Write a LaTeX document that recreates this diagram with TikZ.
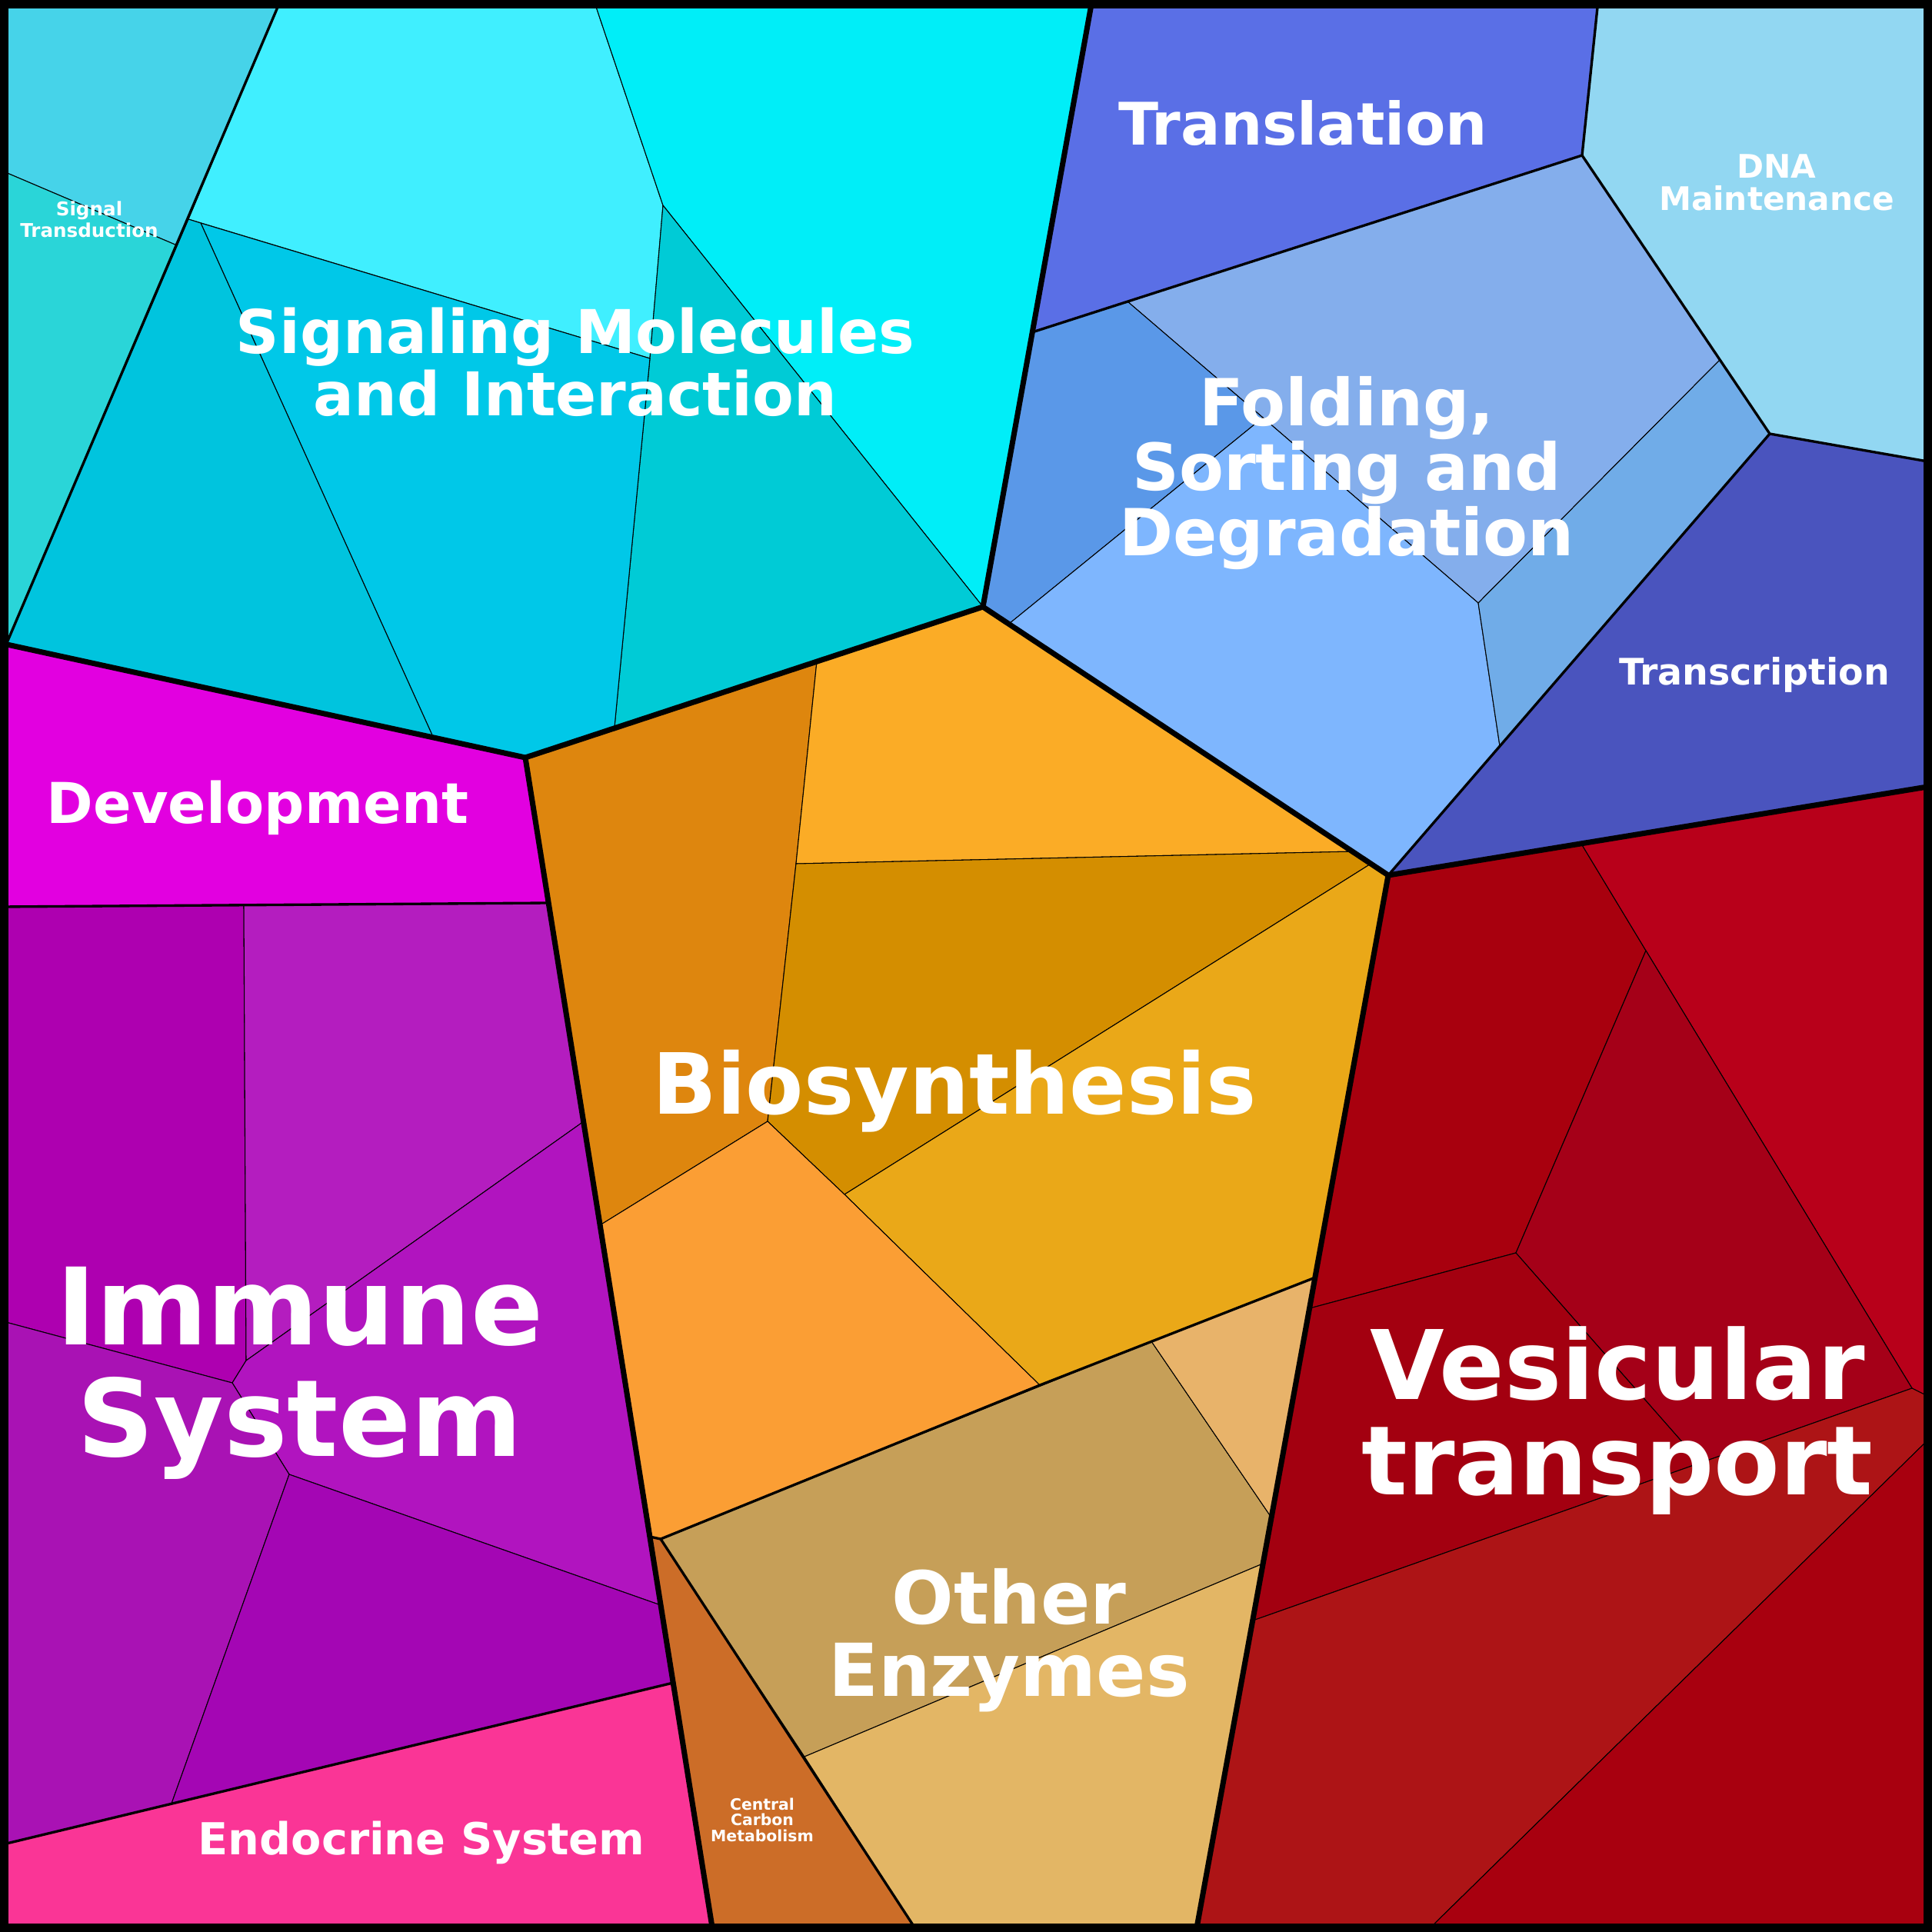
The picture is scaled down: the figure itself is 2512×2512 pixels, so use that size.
\documentclass[tikz,border=0pt]{standalone}
\usepackage{fontspec}
\setmainfont{DejaVu Sans}
\definecolor{stA}{HTML}{46D3E9}
\definecolor{stB}{HTML}{2AD5D8}
\definecolor{smA}{HTML}{40EFFF}
\definecolor{smB}{HTML}{00EEF8}
\definecolor{smC}{HTML}{00CBD6}
\definecolor{smD}{HTML}{00C8E8}
\definecolor{smE}{HTML}{00C4DE}
\definecolor{trl}{HTML}{5A6FE6}
\definecolor{dna}{HTML}{92D7F2}
\definecolor{trc}{HTML}{4A54BE}
\definecolor{fsA}{HTML}{84AEEC}
\definecolor{fsB}{HTML}{5A98E8}
\definecolor{fsC}{HTML}{7EB6FE}
\definecolor{fsD}{HTML}{70ACE8}
\definecolor{bsA}{HTML}{DE860E}
\definecolor{bsB}{HTML}{FBAC26}
\definecolor{bsC}{HTML}{D48E00}
\definecolor{bsD}{HTML}{EAA818}
\definecolor{bsE}{HTML}{FB9E34}
\definecolor{oeA}{HTML}{C69F58}
\definecolor{oeB}{HTML}{E8B36A}
\definecolor{oeC}{HTML}{E3B665}
\definecolor{ccm}{HTML}{CC6D28}
\definecolor{dev}{HTML}{E200E0}
\definecolor{end}{HTML}{FA3596}
\definecolor{imA}{HTML}{AE00B0}
\definecolor{imB}{HTML}{B41DBF}
\definecolor{imC}{HTML}{B114BF}
\definecolor{imD}{HTML}{A912B4}
\definecolor{imE}{HTML}{A406B4}
\definecolor{vtA}{HTML}{A8000E}
\definecolor{vtB}{HTML}{B8001A}
\definecolor{vtC}{HTML}{A50018}
\definecolor{vtD}{HTML}{A30010}
\definecolor{vtE}{HTML}{AD1416}
\definecolor{vtF}{HTML}{A8000F}
\begin{document}
\begin{tikzpicture}[x=0.01cm,y=-0.01cm,
  cell/.style={draw=black,line width=0.3pt},
  lvtwo/.style={line width=0.95pt,line join=round},
  lvone/.style={line width=2pt,line join=round,line cap=round},
  lab/.style 2 args={text=white,align=center,anchor=base,inner sep=0pt,
    font=\fontsize{#1}{#2}\selectfont\bfseries}]
\useasboundingbox (0,0) rectangle (2512,2512);
\coordinate (P1) at (1420,0);
\coordinate (P2) at (1278,789);
\coordinate (P3) at (683,985);
\coordinate (P4) at (0,836);
\coordinate (P5) at (1805,1138);
\coordinate (P6) at (2512,1022);
\coordinate (P7) at (927,2512);
\coordinate (P8) at (1555,2512);
\filldraw[cell,fill=stA] (0,0) -- (365,0) -- (230,319) -- (0,221) -- cycle;
\filldraw[cell,fill=stB] (0,221) -- (230,319) -- (8,838) -- (0,838) -- cycle;
\filldraw[cell,fill=smA] (365,0) -- (772,0) -- (862,267) -- (845,466) -- (245,285) -- cycle;
\filldraw[cell,fill=smB] (772,0) -- (P1) -- (P2) -- (862,267) -- cycle;
\filldraw[cell,fill=smC] (862,267) -- (P2) -- (799,945) -- (845,466) -- cycle;
\filldraw[cell,fill=smD] (261,290) -- (845,466) -- (799,945) -- (P3) -- (563,958) -- cycle;
\filldraw[cell,fill=smE] (245,285) -- (261,290) -- (563,958) -- (8,838) -- cycle;
\filldraw[cell,fill=trl] (P1) -- (2078,0) -- (2057,202) -- (1342,432) -- cycle;
\filldraw[cell,fill=dna] (2078,0) -- (2512,0) -- (2512,601) -- (2301,564) -- (2057,202) -- cycle;
\filldraw[cell,fill=trc] (2301,564) -- (2512,601) -- (P6) -- (P5) -- cycle;
\filldraw[cell,fill=fsA] (1466,392) -- (2057,202) -- (2236,468) -- (1922,784) -- (1642,543) -- cycle;
\filldraw[cell,fill=fsB] (1342,432) -- (1466,392) -- (1642,543) -- (1312,811) -- (P2) -- cycle;
\filldraw[cell,fill=fsC] (1312,811) -- (1642,543) -- (1922,784) -- (1950,970) -- (P5) -- cycle;
\filldraw[cell,fill=fsD] (2236,468) -- (2301,564) -- (1950,970) -- (1922,784) -- cycle;
\filldraw[cell,fill=bsA] (P3) -- (1062,860) -- (1035,1123) -- (998,1458) -- (780,1593) -- cycle;
\filldraw[cell,fill=bsB] (1062,860) -- (P2) -- (1762,1107) -- (1035,1123) -- cycle;
\filldraw[cell,fill=bsC] (1035,1123) -- (1762,1107) -- (1784,1122) -- (1098,1553) -- (998,1458) -- cycle;
\filldraw[cell,fill=bsD] (1784,1122) -- (P5) -- (1710,1661) -- (1352,1801) -- (1098,1553) -- cycle;
\filldraw[cell,fill=bsE] (780,1593) -- (998,1458) -- (1098,1553) -- (1352,1801) -- (859,2001) -- (845,1998) -- cycle;
\filldraw[cell,fill=oeA] (859,2001) -- (1497,1744) -- (1653,1973) -- (1642,2033) -- (1046,2284) -- cycle;
\filldraw[cell,fill=oeB] (1497,1744) -- (1710,1661) -- (1653,1973) -- cycle;
\filldraw[cell,fill=oeC] (1046,2284) -- (1642,2033) -- (P8) -- (1193,2512) -- cycle;
\filldraw[cell,fill=ccm] (845,1998) -- (859,2001) -- (1193,2512) -- (P7) -- cycle;
\filldraw[cell,fill=dev] (P4) -- (P3) -- (712,1174) -- (0,1179) -- cycle;
\filldraw[cell,fill=end] (0,2399) -- (875,2188) -- (P7) -- (0,2512) -- cycle;
\filldraw[cell,fill=imA] (0,1179) -- (317,1177) -- (320,1769) -- (302,1798) -- (0,1717) -- cycle;
\filldraw[cell,fill=imB] (317,1177) -- (712,1174) -- (759,1458) -- (320,1769) -- cycle;
\filldraw[cell,fill=imC] (320,1769) -- (759,1458) -- (859,2087) -- (376,1917) -- (302,1798) -- cycle;
\filldraw[cell,fill=imD] (0,1717) -- (302,1798) -- (376,1917) -- (223,2345) -- (0,2399) -- cycle;
\filldraw[cell,fill=imE] (376,1917) -- (859,2087) -- (875,2188) -- (223,2345) -- cycle;
\filldraw[cell,fill=vtA] (P5) -- (2056,1097) -- (2140,1236) -- (1971,1629) -- (1703,1701) -- cycle;
\filldraw[cell,fill=vtB] (2056,1097) -- (P6) -- (2512,1818) -- (2486,1805) -- (2140,1236) -- cycle;
\filldraw[cell,fill=vtC] (2140,1236) -- (2486,1805) -- (2211,1902) -- (1971,1629) -- cycle;
\filldraw[cell,fill=vtD] (1703,1701) -- (1971,1629) -- (2211,1902) -- (1629,2107) -- cycle;
\filldraw[cell,fill=vtE] (1629,2107) -- (2486,1805) -- (2512,1818) -- (2512,1867) -- (1854,2512) -- (P8) -- cycle;
\filldraw[cell,fill=vtF] (2512,1867) -- (2512,2512) -- (1854,2512) -- cycle;
\draw[lvtwo] (365,0) -- (8,838);
\draw[lvtwo] (1342,432) -- (2057,202) -- (2078,0);
\draw[lvtwo] (2057,202) -- (2301,564) -- (2512,601);
\draw[lvtwo] (2301,564) -- (P5);
\draw[lvtwo] (0,1179) -- (712,1174);
\draw[lvtwo] (0,2399) -- (875,2188);
\draw[lvtwo] (845,1998) -- (859,2001) -- (1352,1801) -- (1710,1661);
\draw[lvtwo] (859,2001) -- (1193,2512);
\draw[lvone] (P1) -- (P2) -- (P3) -- (P4);
\draw[lvone] (P2) -- (P5) -- (P6);
\draw[lvone] (P3) -- (P7);
\draw[lvone] (P5) -- (P8);
\draw[line width=3.1pt] (5.5,5.5) rectangle (2506.5,2506.5);
\node[lab={7}{6.8}] (sigtrans) at (116,308) {Signal\\Transduction};
\node[lab={22.3}{23}] (sigmol) at (748,540) {Signaling Molecules\\and Interaction};
\node[lab={21.7}{22}] (transl) at (1694,189) {Translation};
\node[lab={12}{12}] (dnamain) at (2310,274) {DNA\\Maintenance};
\node[lab={24}{23.9}] (folding) at (1751,722) {Folding,\\Sorting and\\Degradation};
\node[lab={13.5}{14}] (transc) at (2281,890) {Transcription};
\node[lab={20.8}{21}] (develop) at (335,1070) {Development};
\node[lab={31.2}{32}] (biosyn) at (1241,1448) {Biosynthesis};
\node[lab={39.5}{41}] (immune) at (390,1893) {Immune\\System};
\node[lab={35.5}{35}] (vesic) at (2103,1943) {Vesicular\\transport};
\node[lab={27}{26.7}] (otherenz) at (1312,2205) {Other\\Enzymes};
\node[lab={5.8}{5.8}] (central) at (991,2394) {Central\\Carbon\\Metabolism};
\node[lab={16.3}{17}] (endocr) at (548,2411) {Endocrine System};
\end{tikzpicture}
\end{document}
